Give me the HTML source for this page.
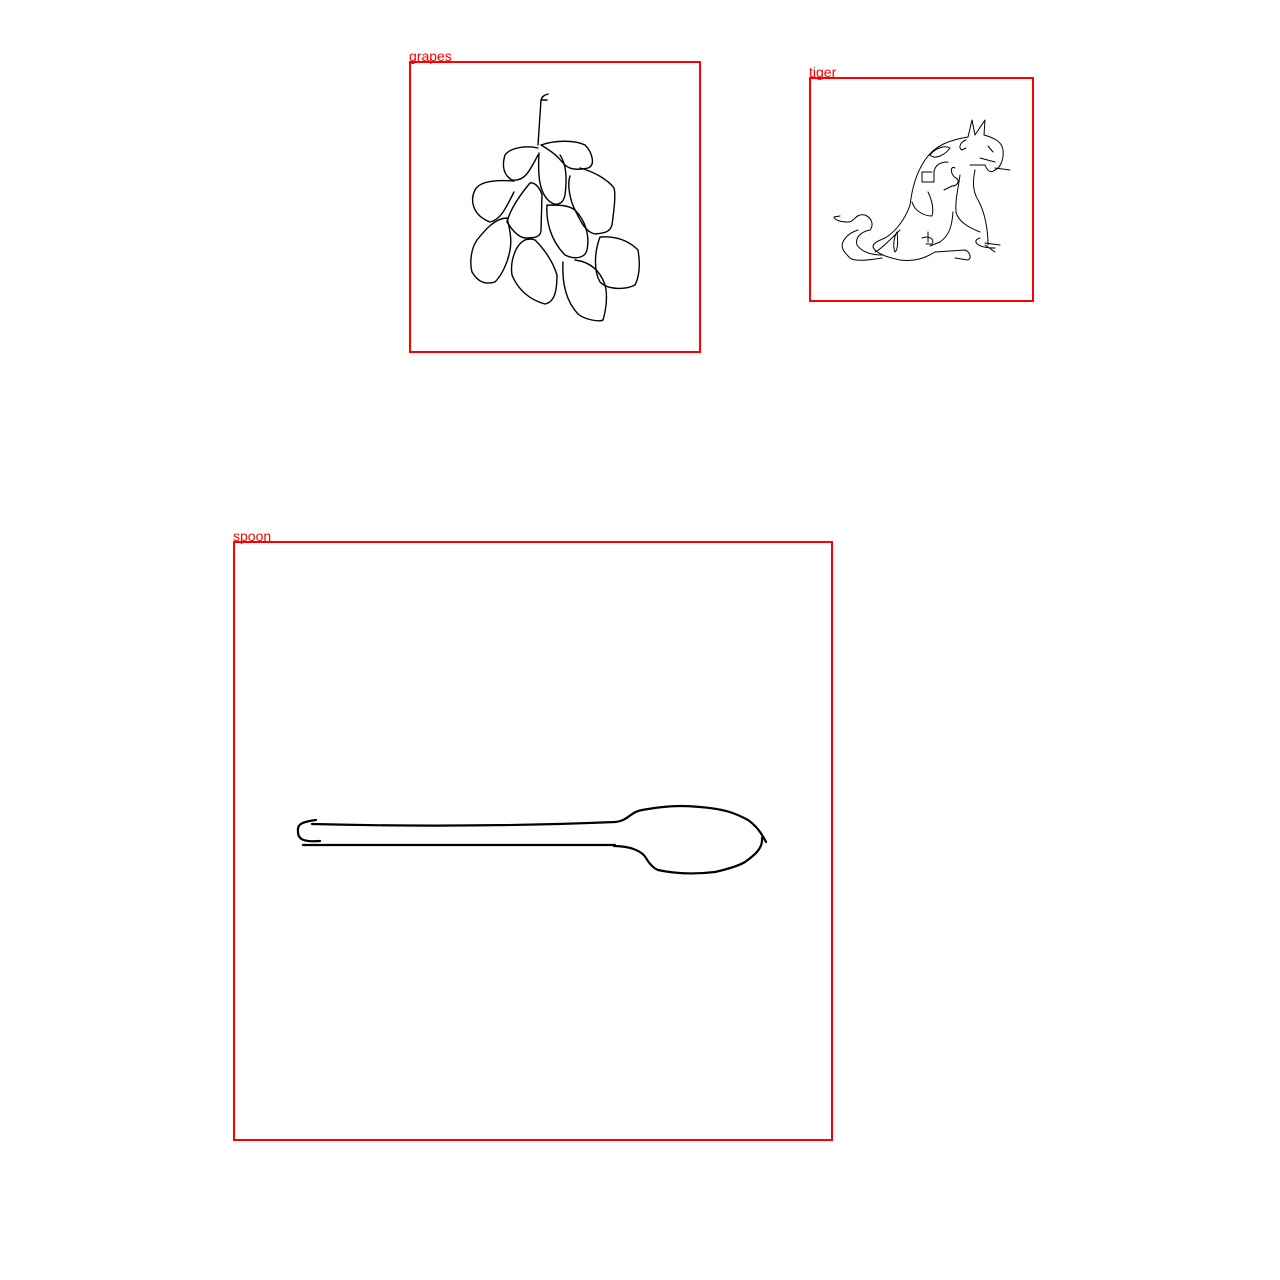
<!DOCTYPE html>
<html><head><meta charset="utf-8"><style>
html,body{margin:0;padding:0;background:#fff;width:1280px;height:1280px;overflow:hidden}
svg{display:block}
text{font-family:"Liberation Sans",sans-serif;font-size:14px;fill:#ff0000}
</style></head><body>
<svg id="c" width="1280" height="1280" viewBox="0 0 1280 1280">
<g id="boxes"></g>
<g fill="none" stroke="#000" stroke-linecap="round" stroke-linejoin="round">
<g stroke-width="1.4">
<path d="M538,145 L541,100 C542,96 545,95 548,94 M541,100 L547,100"/>
<path d="M541,145 C555,140 575,140 585,145 C592,152 596,165 588,168 C580,170 570,170 565,165 C560,160 558,155 541,145"/>
<path d="M538,148 C525,145 510,148 505,155 C502,165 503,175 512,180 C525,182 530,170 538,155"/>
<path d="M539,153 C538,170 538,190 548,200 C555,207 563,205 565,195 C567,180 567,165 560,155"/>
<path d="M514,181 C500,180 480,180 475,190 C470,200 472,215 490,222 C500,220 505,210 514,192"/>
<path d="M530,183 C520,195 510,210 507,222 C512,230 518,237 525,238 C535,238 541,237 541,230 L542,195 C540,188 535,182 530,183"/>
<path d="M570,176 C567,185 570,200 575,210 C580,220 585,232 595,234 C605,233 610,232 612,225 C614,210 616,195 614,188 C608,180 595,172 580,168"/>
<path d="M547,205 C546,220 550,240 565,255 C575,260 585,258 587,250 C590,235 585,220 575,210 C568,205 560,205 547,205"/>
<path d="M507,218 C495,218 485,230 477,240 C470,250 470,265 472,272 C478,282 485,285 495,282 C502,275 508,262 510,250 C512,240 510,230 507,218"/>
<path d="M525,240 C515,245 510,262 512,275 C518,290 530,300 545,304 C555,302 557,290 557,275 C553,262 545,250 535,240 C530,238 525,240 525,240"/>
<path d="M563,262 C562,280 565,300 578,314 C585,320 600,322 603,320 C606,310 608,295 605,285 C600,270 590,262 575,260"/>
<path d="M600,237 C595,250 593,270 600,282 C608,290 625,290 635,285 C640,275 640,262 638,250 C628,240 615,236 600,237"/>
</g>
<g stroke-width="1">
<path d="M968,137 C950,140 935,145 925,160 C915,175 912,190 910,205 C905,220 895,232 885,238 C875,242 870,245 875,250 C880,255 890,258 900,260 C915,262 925,258 935,252 L965,250 C970,252 972,258 968,260 L955,258"/>
<path d="M882,255 C870,255 862,252 857,245 C855,238 860,232 870,230 C874,225 872,218 865,215 C855,213 855,222 848,222 C840,222 835,220 834,217 L840,216"/>
<path d="M882,258 C870,260 855,262 850,258 C845,253 840,248 843,242 C846,235 852,232 858,230"/>
<path d="M975,170 C973,180 972,190 978,200 C985,212 988,230 988,245"/>
<path d="M960,175 C958,190 955,200 956,212 C958,222 970,228 980,232"/>
<path d="M980,238 C972,240 975,248 995,248 M985,243 L1000,245 M985,245 L995,252"/>
<path d="M968,137 L972,120 L975,135 L985,120 L984,135 C995,138 1002,142 1003,150 C1004,160 1000,168 995,170 C990,174 987,170 985,165 L970,165"/>
<path d="M988,146 L993,152 M980,158 L995,162 M995,168 L1010,170"/>
<path d="M950,148 C945,155 935,160 930,155 C935,148 945,145 950,148 M966,140 C960,142 958,148 962,150 L966,148"/>
<path d="M948,162 C940,162 935,165 934,172 L934,182 L922,182 L922,172 L932,172"/>
<path d="M955,168 C950,165 950,175 956,178 C960,180 958,186 952,186 L944,190"/>
<path d="M928,192 C932,200 934,210 932,216 C925,216 915,212 912,202"/>
<path d="M953,212 C952,225 950,235 940,242 L930,246"/>
<path d="M897,232 C898,240 898,250 895,252 C892,245 895,235 897,232 M928,232 L928,242 M922,238 C930,235 935,240 932,244 L926,244"/>
<path d="M900,230 C890,240 880,250 875,252"/>
</g>
<g stroke-width="2.2">
<path d="M316,820 C300,822 297,825 298,832 C298,840 305,842 320,841"/>
<path d="M312,824 Q470,828 615,822 C628,821 630,812 642,810 C665,806 680,805 700,807 C725,809 735,813 748,820 C757,826 762,834 766,842"/>
<path d="M303,845 L615,845 M614,846 C630,846 642,851 646,858 C650,865 655,869 658,870 C672,873 690,875 715,872 C728,869 740,865 745,862 C755,855 763,848 762,838"/>
</g>
</g>
</svg>
<script>
const labels = ["grapes", "tiger", "spoon"];
const boxX = [410, 810, 234];
const boxY = [62, 78, 542];
const boxSize = [290, 223, 598];
const g = document.getElementById('boxes');
const NS = 'http://www.w3.org/2000/svg';
for (let i = 0; i < labels.length; i++) {
  const r = document.createElementNS(NS, 'rect');
  r.setAttribute('x', boxX[i]); r.setAttribute('y', boxY[i]);
  r.setAttribute('width', boxSize[i]); r.setAttribute('height', boxSize[i]);
  r.setAttribute('fill', 'none'); r.setAttribute('stroke', '#ff0000'); r.setAttribute('stroke-width', '2');
  
  
  g.appendChild(r);
  const t = document.createElementNS(NS, 'text');
  t.setAttribute('x', boxX[i] - 1); t.setAttribute('y', boxY[i] - 1);
  t.textContent = labels[i];
  
  
  g.appendChild(t);
}
</script>
</body></html>
